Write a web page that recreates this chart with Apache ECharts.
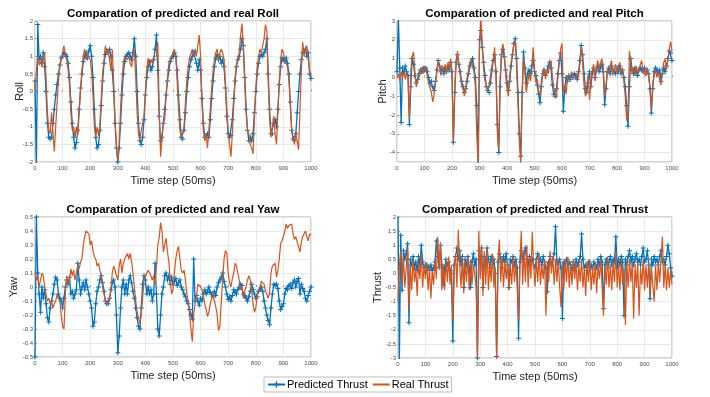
<!DOCTYPE html>
<html>
<head>
<meta charset="utf-8">
<script src="https://cdn.jsdelivr.net/npm/echarts@6/dist/echarts.min.js"></script>
<style>
  html, body { margin: 0; padding: 0; background: #fff; }
  #chart { width: 710px; height: 397px; }
</style>
</head>
<body>
<div id="chart"></div>
<script>
// one sample every 5 time steps, 0..1000
const steps = Array.from({ length: 201 }, (_, i) => i * 5)

const rollPred = [
  0.3, -2.2, 1.9, 0.9, 1.0, 0.8, 1.1, 0.7, 0.0, -0.9, -1.3, -1.35, -1.3, -0.9, -0.5, -0.1, 0.2, 0.5, 0.75, 0.95,
  1.0, 1.1, 1.05, 1.0, 0.8, 0.4, -0.3, -0.9, -1.3, -1.6, -1.45, -1.1, -0.5, 0.1, 0.5, 0.85, 1.0, 1.1, 0.95, 1.15,
  1.3, 1.0, 0.4, -0.5, -1.3, -1.6, -1.5, -1.1, -0.4, 0.3, 0.8, 1.05, 1.15, 1.1, 1.2, 1.0, 0.6, 0.0, -0.9, -1.6,
  -2.0, -1.6, -0.9, -0.1, 0.5, 0.85, 1.0, 1.05, 1.1, 1.0, 0.9, 1.1, 1.5, 1.0, 0.0, -0.9, -1.4, -1.5, -1.3, -0.8,
  -0.1, 0.4, 0.7, 0.85, 0.6, 0.7, 0.9, 1.2, 1.6, 0.6, -0.7, -1.4, -1.3, -0.9, -0.5, -0.1, 0.3, 0.6, 0.85, 0.95,
  1.0, 1.1, 1.0, 0.6, -0.1, -0.8, -1.3, -1.35, -1.1, -0.6, 0.0, 0.4, 0.7, 0.9, 1.0, 1.1, 1.15, 0.8, 0.6, 0.9,
  0.6, -0.2, -0.9, -1.3, -1.3, -1.2, -1.3, -0.8, -0.2, 0.3, 0.7, 0.95, 1.05, 0.9, 1.0, 0.8, 0.9, 0.7, 0.1, -0.7,
  -1.2, -1.3, -1.25, -0.8, -0.2, 0.3, 0.7, 0.9, 1.0, 1.2, 1.5, 1.3, 0.4, -0.5, -1.1, -1.4, -1.3, -1.4, -1.2, -0.6,
  0.0, 0.5, 0.8, 1.0, 1.05, 1.0, 1.1, 1.2, 1.5, 0.5, -0.5, -1.2, -1.2, -0.9, -0.8, -1.0, -0.5, 0.2, 0.7, 0.95,
  0.9, 0.85, 0.95, 0.8, 0.5, -0.3, -1.1, -1.35, -1.4, -1.2, -0.6, 0.0, 0.5, 0.9, 1.1, 1.15, 1.2, 1.0, 1.1, 0.5,
  0.37
]
const rollReal = [
  0.0, 0.6, 1.0, 0.75, 0.85, 0.7, 1.0, 1.1, 0.4, -0.6, -1.1, -1.2, -0.6, -0.55, -1.7, -1.0, -0.3, 0.3, 0.7, 0.9,
  1.1, 1.3, 1.0, 0.9, 0.6, 0.2, -0.6, -1.1, -1.0, -1.3, -1.0, -1.25, -0.6, 0.0, 0.6, 1.0, 1.2, 0.9, 1.05, 1.1,
  0.9, 0.6, -0.1, -1.0, -1.3, -1.0, -1.25, -1.0, -0.2, 0.5, 0.9, 1.3, 1.1, 1.2, 0.9, 0.6, 1.2, 0.3, -0.8, -1.5,
  -1.95, -1.5, -0.5, 0.3, 0.8, 1.0, 1.05, 0.9, 1.0, 0.8, 0.7, 1.0, 1.2, 0.4, -0.6, -1.2, -1.4, -1.1, -0.9, -0.7,
  0.0, 0.6, 0.95, 0.7, 0.9, 0.8, 1.0, 1.0, 1.0, 1.4, -0.5, -1.85, -1.3, -0.9, -0.8, -0.1, 0.4, 0.8, 0.9, 1.0,
  1.1, 1.2, 1.0, 0.3, -0.5, -1.1, -1.3, -1.2, -1.0, -0.3, 0.3, 0.7, 0.95, 1.0, 1.2, 1.0, 1.1, 1.0, 1.3, 1.6,
  1.0, -0.3, -1.1, -1.4, -1.2, -1.6, -1.1, -0.5, 0.1, 0.6, 0.9, 1.1, 1.2, 0.9, 1.1, 1.2, 1.1, 0.9, 0.3, -0.5,
  -1.2, -1.5, -1.85, -1.2, -0.4, 0.4, 0.8, 0.9, 1.1, 1.6, 1.93, 1.2, 0.2, -0.6, -1.1, -1.2, -1.5, -1.6, -1.77, -0.8,
  0.1, 0.7, 1.0, 1.2, 1.1, 1.3, 1.5, 1.9, 1.7, 0.3, -0.8, -1.3, -1.0, -0.7, -1.2, -1.5, -0.6, 0.3, 0.9, 1.2,
  1.1, 0.9, 0.9, 0.7, 0.3, -0.4, -1.1, -1.3, -1.5, -1.2, -1.4, -1.65, -0.5, 0.6, 1.4, 1.0, 1.2, 1.3, 0.9, 0.6,
  0.4
]

const pitchPred = [
  0.3, 3.2, 0.5, -2.4, 0.5, 0.2, 0.6, 0.3, 0.1, -2.5, -0.5, 1.0, 0.7, 0.1, -0.3, -0.1, 0.2, 0.4, 0.3, 0.5,
  0.4, 0.5, 0.3, 0.0, -0.3, -0.2, -0.5, -0.7, -0.2, 0.4, 0.9, 0.6, 0.3, 0.5, 0.2, 0.5, 0.3, 0.6, 0.4, 0.8,
  0.3, -3.45, -0.8, 0.8, 1.2, 0.7, 0.3, -0.2, -0.5, -0.8, -0.6, -0.2, 0.2, 0.6, 0.8, 1.0, 0.5, 0.0, -1.5, -4.6,
  2.0, 2.5, 1.6, 0.8, 0.1, -0.5, -0.7, -0.8, -0.3, 0.4, 0.9, 1.2, 0.3, -2.5, -4.0, -0.5, 1.2, 1.5, 1.1, 0.4,
  -0.3, -0.7, -0.2, 0.6, 1.2, 1.8, 2.05, 1.0, -0.8, -3.0, -4.2, -0.8, 1.35, 0.5, -0.3, 0.2, 0.4, 0.2, 0.6, 0.9,
  0.3, 0.1, -0.4, -0.9, -1.35, -0.5, 0.2, 0.4, 0.1, 0.3, 0.6, 0.8, 0.5, -0.4, -0.9, -1.0, -0.6, 0.2, 0.9, 1.3,
  0.2, -1.8, -0.6, 0.0, -0.2, 0.1, -0.1, 0.1, 0.0, 0.2, 0.1, -0.1, 0.3, 0.9, 1.7, 1.2, 0.2, -0.6, -0.8, -0.3,
  0.3, -0.5, 0.2, 0.5, 0.0, 0.4, 0.6, 0.3, 0.5, 0.7, 0.3, -1.45, -0.6, 0.3, 0.5, 0.2, 0.6, 0.3, 0.4, 0.2,
  0.5, 0.3, 0.6, 0.2, 0.4, 0.0, -0.5, -1.5, -2.6, -0.5, 1.0, 0.4, 0.2, 0.5, 0.3, 0.1, 0.4, 0.5, 0.4, 0.3,
  0.5, 0.2, 0.4, 0.2, -0.6, -1.9, -0.6, 0.3, 0.5, 0.4, 0.2, 0.4, -0.2, 0.2, 0.5, 0.3, 0.6, 1.0, 1.4, 1.3,
  0.9
]
const pitchReal = [
  0.0, 0.2, -0.2, 0.3, 0.0, 0.3, -0.1, 0.2, 0.0, -2.2, 0.3, 1.1, 1.35, 0.3, -0.5, -0.2, 0.0, 0.3, 0.5, 0.2,
  0.6, 0.4, 0.1, -0.3, -0.4, -0.8, -1.3, -0.9, -0.3, 0.3, 0.9, 0.5, 0.1, 0.6, 0.4, 0.7, 0.2, 0.8, 0.5, 1.0,
  0.0, -3.4, -0.5, 0.9, 1.4, 0.6, 0.1, -0.4, -0.6, -1.0, -0.5, 0.0, 0.4, 0.8, 1.0, 0.6, 0.3, -0.5, -3.0, -4.6,
  1.5, 3.2, 1.8, 0.4, -0.2, -0.4, -0.7, -0.4, 0.1, 0.6, 1.0, 1.6, 0.0, -3.0, -3.9, 0.0, 1.3, 1.78, 1.3, 0.2,
  -0.6, -1.0, 0.1, 0.8, 1.3, 1.7, 2.0, 0.5, -1.5, -3.5, -4.6, -1.0, 1.0, 0.3, -0.8, -0.3, 0.2, -0.2, 0.4, 1.6,
  0.5, -0.3, -0.1, -0.7, -1.0, -0.2, 0.3, 0.5, -0.1, 0.4, 0.2, 0.7, 0.9, 0.1, -0.6, -0.8, -1.1, 0.0, 0.8, 1.5,
  1.8, -0.8, -0.4, -0.9, 0.1, 0.2, 0.0, 0.3, 0.1, 0.2, -0.1, 0.2, 0.0, 0.7, 1.6, 0.8, -0.4, -1.0, -0.5, 0.2,
  -1.2, -0.3, 0.4, 0.7, -0.2, 0.5, 0.9, 0.4, 0.8, 1.0, 0.6, -1.0, -0.4, 0.4, 0.2, 0.6, 0.9, 0.1, 0.5, 0.7,
  0.2, 0.6, 0.8, 0.3, 0.5, -0.2, -1.0, -2.3, -2.0, 1.4, 0.8, 0.2, 0.5, 0.1, 0.6, 0.2, 0.3, 0.7, 0.9, 0.2,
  0.4, 0.1, 0.5, 0.0, -0.5, -1.7, -0.3, 0.1, 0.4, 0.0, 0.3, -0.1, -0.4, 0.3, 0.8, 1.0, 0.4, 0.9, 1.5, 1.9,
  1.4
]

const yawPred = [
  -0.5, 0.5, 0.1, -0.05, -0.18, 0.0, -0.08, -0.02, -0.12, -0.22, -0.25, -0.15, -0.1, -0.05, 0.02, 0.07, 0.05, -0.05, -0.08, -0.1,
  -0.15, -0.08, 0.0, 0.05, 0.02, 0.07, -0.05, -0.03, -0.08, -0.05, -0.02, 0.17, 0.05, -0.05, 0.0, 0.03, -0.02, 0.05, 0.0, -0.05,
  -0.1, -0.15, -0.28, -0.25, -0.12, -0.03, 0.0, 0.05, 0.08, 0.03, -0.03, -0.1, -0.12, -0.12, -0.08, -0.02, 0.03, 0.05, 0.0, -0.2,
  -0.47, -0.35, -0.15, 0.0, 0.05, -0.05, 0.02, -0.05, 0.05, 0.08, 0.03, -0.03, -0.08, -0.15, -0.22, -0.28, -0.3, -0.15, 0.02, 0.08,
  0.05, -0.05, 0.0, -0.05, -0.02, -0.1, -0.05, 0.17, -0.05, -0.3, -0.35, -0.2, -0.05, 0.0, 0.08, 0.1, 0.05, 0.08, 0.02, 0.07,
  0.02, 0.04, 0.06, 0.01, 0.03, 0.05, 0.0, -0.02, -0.05, -0.07, -0.1, -0.12, -0.16, -0.2, -0.23, 0.2, -0.1, -0.06, -0.1, -0.13,
  -0.08, -0.1, -0.05, -0.02, -0.05, -0.03, 0.0, -0.04, -0.05, -0.07, -0.03, -0.06, 0.0, 0.03, 0.05, 0.07, 0.1, 0.04, 0.0, -0.05,
  -0.09, -0.07, -0.1, -0.06, -0.02, -0.04, -0.05, -0.02, 0.0, 0.02, 0.01, -0.05, -0.06, -0.08, -0.1, -0.07, -0.03, 0.02, -0.02, -0.05,
  -0.08, -0.07, -0.03, -0.02, 0.0, -0.03, -0.1, -0.15, -0.2, -0.24, -0.27, -0.15, -0.05, 0.02, 0.01, 0.02, -0.01, -0.1, -0.16, -0.14,
  -0.12, -0.05, -0.01, -0.02, 0.01, 0.02, -0.01, 0.03, 0.05, 0.0, 0.04, 0.06, -0.05, 0.02, -0.01, -0.03, -0.08, -0.1, -0.06, -0.03,
  0.0
]
const yawReal = [
  0.1, 0.05, 0.08, 0.0, 0.05, 0.1, 0.08, 0.0, -0.05, -0.1, -0.08, -0.12, -0.1, -0.15, -0.12, -0.1, -0.05, -0.08, -0.1, -0.2,
  -0.28, -0.3, -0.05, 0.08, 0.02, 0.05, 0.13, 0.08, 0.12, 0.05, 0.1, 0.15, 0.13, 0.18, 0.2, 0.3, 0.36, 0.4, 0.41, 0.38,
  0.3, 0.33, 0.26, 0.22, 0.2, 0.15, 0.17, 0.12, 0.08, 0.0, -0.05, -0.1, -0.12, -0.13, -0.1, -0.02, 0.1, 0.15, 0.12, 0.08,
  0.05, 0.15, 0.2, 0.1, 0.17, 0.2, 0.22, 0.24, 0.2, 0.24, 0.18, 0.1, 0.0, -0.1, -0.18, -0.22, -0.26, -0.2, -0.08, 0.05,
  0.08, 0.1, 0.12, 0.1, 0.08, 0.05, 0.08, 0.02, 0.15, 0.3, 0.35, 0.46, 0.4, 0.25, 0.3, 0.35, 0.25, 0.18, 0.05, -0.05,
  -0.02, 0.1, 0.2, 0.26, 0.29, 0.2, 0.12, 0.1, 0.12, 0.05, -0.05, -0.1, -0.2, -0.3, -0.39, -0.2, -0.12, -0.07, 0.02, 0.03,
  0.0, -0.02, -0.06, -0.12, -0.16, -0.21, -0.18, -0.12, -0.08, -0.05, -0.1, -0.14, -0.2, -0.31, -0.28, -0.1, 0.05, 0.2, 0.26, 0.24,
  0.1, 0.03, 0.0, 0.06, 0.1, 0.17, 0.15, 0.1, 0.05, -0.02, 0.0, -0.08, -0.03, 0.0, 0.05, 0.08, 0.05, -0.02, -0.12, -0.18,
  -0.15, -0.07, -0.02, 0.0, 0.04, 0.05, 0.02, -0.03, -0.05, -0.08, -0.04, 0.1, 0.15, 0.16, 0.17, 0.07, 0.12, 0.2, 0.31, 0.33,
  0.36, 0.4, 0.45, 0.42, 0.44, 0.43, 0.45, 0.38, 0.34, 0.36, 0.32, 0.29, 0.25, 0.32, 0.36, 0.38, 0.4, 0.36, 0.33, 0.38,
  0.37
]

const thrustPred = [
  2.1, -3.1, 1.35, -0.6, 0.8, 0.5, 0.7, 1.05, -1.75, 0.5, 0.3, 0.6, 0.2, 0.4, 0.1, 0.6, 0.3, 1.0, 0.4, 0.2,
  0.3, 0.1, 0.25, 0.15, 0.3, 0.1, 0.2, 0.4, 1.15, 0.6, 0.2, 1.0, 0.3, -0.4, 0.2, 0.5, 0.3, 0.4, 0.1, 0.0,
  -2.4, 0.3, 0.6, 0.9, 0.5, 0.8, 0.3, 0.6, -0.5, 0.5, 0.3, 0.6, 0.2, -0.5, 0.4, 0.7, 0.3, 0.5, -3.0, 0.8,
  0.4, 0.9, -0.5, 0.6, 0.3, 0.9, 0.5, 0.2, 0.6, 0.3, 0.5, 0.0, -2.95, 0.4, 0.7, 0.5, 0.2, 0.6, 0.4, 0.7,
  0.3, -0.5, 0.5, 0.4, 0.6, 0.3, 0.5, 0.2, -2.3, 0.4, 0.8, 0.5, 0.7, 0.9, 0.5, 0.3, 0.6, 0.4, 0.5, 0.3,
  0.2, 0.5, 0.7, 0.4, 0.5, 0.3, 0.6, 0.4, 0.2, -0.65, 0.4, 0.6, 0.3, 0.5, 0.7, 1.65, 0.4, 0.3, 0.5, 0.2,
  -1.6, 0.4, 0.3, 0.5, 0.2, 0.4, 0.3, 0.1, 0.4, 0.2, 0.5, 0.3, 0.4, 0.6, 1.4, 0.5, 0.2, 0.3, 0.1, 0.4,
  0.2, 0.3, 0.15, 0.4, 0.3, 0.2, 0.5, 0.3, 0.6, 0.4, -1.25, 0.3, 0.5, 0.2, 0.4, 0.6, 0.3, 0.5, 0.4, 1.3,
  0.2, 0.5, 0.3, 0.6, 0.4, -1.5, 0.5, 0.3, 0.6, 0.8, 0.4, 0.6, 0.3, 0.5, 0.7, 0.4, 0.5, 0.3, 0.6, 0.9,
  0.4, 0.5, 0.8, 0.3, -0.9, 0.5, 0.3, 0.6, 0.4, 0.5, 0.3, 0.6, 0.8, 0.4, 0.5, 0.3, 0.6, 1.0, 0.7, 0.2,
  -0.1
]
const thrustReal = [
  -1.0, 0.3, 0.8, -0.4, 0.6, -0.5, 0.2, 0.9, -1.3, 0.3, -0.6, 0.5, -0.3, 0.2, -0.8, 0.4, -0.2, 0.7, -0.5, 0.3,
  -0.2, 0.4, -0.6, 0.2, -0.9, 0.1, -0.4, 0.5, -0.2, 1.3, 0.2, 1.1, -0.6, 0.3, -0.6, 0.5, -0.3, 0.6, -0.4, 0.3,
  -1.7, 0.2, 0.7, -0.5, 1.55, 0.3, -0.5, 0.6, -0.7, 0.4, -0.3, 0.6, -0.6, 0.5, -0.4, 0.3, 0.0, -0.5, -3.05, 1.5,
  -0.2, 1.0, -0.8, 0.8, -0.4, 0.9, -0.6, 0.4, -0.3, 0.7, -0.5, 0.2, -3.05, 0.5, 1.2, -0.3, 0.6, -0.5, 0.4, -0.2,
  0.5, -0.6, 0.3, -0.4, 0.6, -0.3, 0.4, -0.5, -1.7, 0.5, 1.5, -0.4, 0.8, -0.3, 1.0, -0.5, 0.6, -0.2, 1.48, 0.3,
  -0.47, 0.5, -0.3, 0.7, -0.4, 0.3, -0.2, 0.5, -1.5, 0.4, -0.3, 0.8, 0.0, 0.6, -0.4, 0.5, -0.3, 0.5, -0.5, -1.2,
  0.4, -0.6, 0.5, -0.3, 0.6, -0.5, 0.3, -0.4, 0.5, -0.2, 0.4, -0.6, 0.3, -0.3, 0.5, -0.5, 0.2, -0.8, 0.4, -0.3,
  0.5, -0.6, 0.2, -0.4, 0.4, -0.7, 0.3, -0.2, 0.5, -0.5, -1.5, 0.3, -0.4, 0.6, -0.5, 0.3, -0.6, 0.4, -0.3, 0.8,
  -0.5, 0.3, -0.6, 0.5, -0.4, 0.2, -1.83, 0.4, -0.5, 0.5, -0.3, 0.4, -1.6, 0.3, -0.5, 0.4, -1.5, 0.2, -0.4, 0.5,
  -0.6, 0.3, -0.5, 0.4, -0.8, 0.2, -0.4, -1.0, 0.3, -0.6, 0.4, -0.3, 0.5, 1.3, -0.5, 0.3, -0.6, 0.2, -0.5, 0.1,
  -0.4
]

const BLUE = '#0072BD'
const ORANGE = '#D95319'
const FONT = '"Liberation Sans", Arial, sans-serif'
const PLUS = 'path://M4,0H6V4H10V6H6V10H4V6H0V4H4Z'

// one panel per signal
const panels = [
  { title: 'Comparation of predicted and real Roll', yName: 'Roll', pred: rollPred, real: rollReal,
    grid: { left: 35, top: 21, width: 276, height: 141 }, y: { min: -2, max: 2, interval: 0.5 }, nameGap: 10 },
  { title: 'Comparation of predicted and real Pitch', yName: 'Pitch', pred: pitchPred, real: pitchReal,
    grid: { left: 397, top: 21, width: 275, height: 141 }, y: { min: -4.5, max: 3, splitNumber: 7 }, nameGap: 9 },
  { title: 'Comparation of predicted and real Yaw', yName: 'Yaw', pred: yawPred, real: yawReal,
    grid: { left: 35, top: 217, width: 276, height: 140 }, y: { min: -0.5, max: 0.5, interval: 0.1 }, nameGap: 16 },
  { title: 'Comparation of predicted and real Thrust', yName: 'Thrust', pred: thrustPred, real: thrustReal,
    grid: { left: 398, top: 217, width: 274, height: 141 }, y: { min: -3, max: 2, interval: 0.5 }, nameGap: 15 }
]

function pairs(vals) {
  return vals.map((v, i) => [steps[i], v])
}

const option = {
  animation: false,
  backgroundColor: '#fff',
  textStyle: { fontFamily: FONT },
  title: panels.map(p => ({
    text: p.title,
    left: p.grid.left + p.grid.width / 2 - 5,
    top: p.grid.top - 18,
    textAlign: 'center',
    textStyle: { fontSize: 11.5, fontWeight: 'bold', color: '#000', fontFamily: FONT }
  })),
  legend: {
    data: [
      { name: 'Predicted Thrust' },
      { name: 'Real Thrust', itemStyle: { opacity: 0 } }
    ],
    left: 264, top: 377,
    padding: [2, 3],
    itemGap: 4,
    itemWidth: 17, itemHeight: 8,
    borderColor: '#bdbdbd', borderWidth: 1,
    textStyle: { fontSize: 11, color: '#000', fontFamily: FONT, padding: [0, 0, 0, -3] }
  },
  grid: panels.map(p => Object.assign({
    show: true, borderColor: '#a8a8a8', borderWidth: 1, backgroundColor: '#fff'
  }, p.grid)),
  xAxis: panels.map((p, i) => ({
    type: 'value', gridIndex: i, min: 0, max: 1000, interval: 100,
    name: 'Time step (50ms)', nameLocation: 'middle', nameGap: 13, nameMoveOverlap: false,
    nameTextStyle: { fontSize: 11, color: '#262626', fontFamily: FONT },
    axisLine: { show: false },
    axisTick: { show: true, inside: true, length: 2, lineStyle: { color: '#9a9a9a' } },
    axisLabel: { fontSize: 6, color: '#4d4d4d', margin: 3, fontFamily: FONT, formatter: v => String(v) },
    splitLine: { show: true, lineStyle: { color: '#e9e9e9', width: 1 } }
  })),
  yAxis: panels.map((p, i) => Object.assign({
    type: 'value', gridIndex: i,
    name: p.yName, nameLocation: 'middle', nameGap: p.nameGap, nameMoveOverlap: false,
    nameTextStyle: { fontSize: 11, color: '#262626', fontFamily: FONT },
    axisLine: { show: false },
    axisTick: { show: true, inside: true, length: 2, lineStyle: { color: '#9a9a9a' } },
    axisLabel: { fontSize: 6, color: '#4d4d4d', margin: 2, fontFamily: FONT, showMinLabel: p.yName !== 'Pitch' },
    splitLine: { show: true, lineStyle: { color: '#e9e9e9', width: 1 } }
  }, p.y)),
  series: panels.flatMap((p, i) => [
    {
      name: i === 3 ? 'Predicted Thrust' : 'Predicted ' + p.yName,
      type: 'line', xAxisIndex: i, yAxisIndex: i,
      data: pairs(p.pred),
      symbol: PLUS, symbolSize: 5, showSymbol: true,
      lineStyle: { color: BLUE, width: 1.3 },
      itemStyle: { color: BLUE },
      z: 2
    },
    {
      name: i === 3 ? 'Real Thrust' : 'Real ' + p.yName,
      type: 'line', xAxisIndex: i, yAxisIndex: i,
      data: pairs(p.real),
      symbol: 'none', showSymbol: false,
      lineStyle: { color: ORANGE, width: 1.2 },
      itemStyle: { color: ORANGE },
      z: 3
    }
  ])
}

const chart = echarts.init(document.getElementById('chart'))
chart.setOption(option)
window.addEventListener('resize', () => chart.resize())
</script>
</body>
</html>
